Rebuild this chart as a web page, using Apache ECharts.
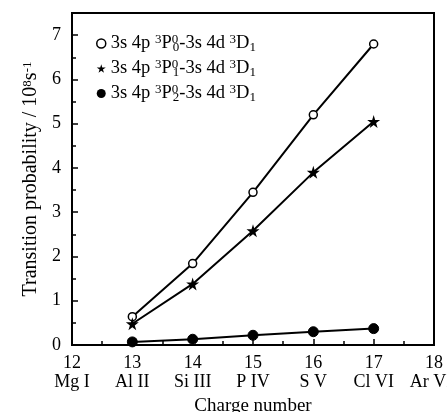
<!DOCTYPE html>
<html>
<head>
<meta charset="utf-8">
<script src="https://cdn.jsdelivr.net/npm/echarts@6/dist/echarts.min.js"></script>
<style>
  html, body { margin: 0; padding: 0; background: #fff; }
  #chart { width: 447px; height: 412px; }
</style>
</head>
<body>
<div id="chart"></div>
<script>
// charge numbers and ion names
const chargeNumbers = [13, 14, 15, 16, 17];
const xTickValues = [12, 13, 14, 15, 16, 17, 18];
const ionNames = ['Mg I', 'Al II', 'Si III', 'P IV', 'S V', 'Cl VI', 'Ar VII'];

// transition probabilities (10^8 s^-1)
const p0Values = [0.64, 1.84, 3.45, 5.2, 6.8];
const p1Values = [0.48, 1.38, 2.58, 3.9, 5.05];
const p2Values = [0.07, 0.13, 0.22, 0.3, 0.37];

const starPath = 'path://M50,0 L61,35 L98,35 L68,57 L79,91 L50,70 L21,91 L32,57 L2,35 L39,35 Z';
const fontFamily = '"Liberation Serif", "DejaVu Serif", serif';

function pairs(vals) {
  return chargeNumbers.map((c, i) => [c, vals[i]]);
}

function legendLabel(name) {
  const j = name.slice(1);
  return '3s 4p {sup|3}P{supS|0}{sub|' + j + '}-3s 4d {sup|3}D{sub|1}';
}

let myChart = echarts.init(document.getElementById('chart'));

let option = {
  animation: false,
  textStyle: { fontFamily: fontFamily, color: '#000' },
  grid: {
    left: 72, right: 13, top: 13, bottom: 67,
    outerBoundsMode: 'none',
    containLabel: false,
    show: true, borderColor: '#000', borderWidth: 2
  },
  legend: {
    orient: 'vertical',
    left: 91,
    top: 28,
    itemGap: 4,
    itemWidth: 9,
    itemHeight: 9,
    data: [
      { name: 'P0', icon: 'circle', itemStyle: { color: '#fff', borderColor: '#000', borderWidth: 1.5 } },
      { name: 'P1', icon: starPath },
      { name: 'P2', icon: 'circle' }
    ],
    formatter: legendLabel,
    textStyle: {
      fontFamily: fontFamily,
      fontSize: 18.5,
      lineHeight: 21,
      color: '#000',
      rich: {
        sup: { fontSize: 13, verticalAlign: 'top', lineHeight: 21, fontFamily: fontFamily },
        supS: { fontSize: 13, verticalAlign: 'top', lineHeight: 21, width: 1, fontFamily: fontFamily },
        sub: { fontSize: 13, verticalAlign: 'bottom', lineHeight: 21, fontFamily: fontFamily }
      }
    }
  },
  xAxis: {
    type: 'value',
    min: 12,
    max: 18,
    interval: 1,
    name: 'Charge number',
    nameLocation: 'middle',
    nameGap: 48,
    nameTextStyle: { fontFamily: fontFamily, fontSize: 19, color: '#000' },
    axisLine: { lineStyle: { color: '#000', width: 2 } },
    axisTick: { inside: true, length: 6, lineStyle: { color: '#000', width: 1.5 } },
    minorTick: { show: true, splitNumber: 2, length: 4, lineStyle: { color: '#000', width: 1.5 } },
    splitLine: { show: false },
    axisLabel: {
      color: '#000',
      fontFamily: fontFamily,
      fontSize: 18,
      lineHeight: 19,
      margin: 9,
      formatter: v => {
        const i = xTickValues.indexOf(v);
        return i < 0 ? '' : v + '\n' + ionNames[i];
      }
    }
  },
  yAxis: {
    type: 'value',
    min: 0,
    max: 7.5,
    interval: 1,
    name: 'Transition probability / 10{sup|8}s{sup|-1}',
    nameLocation: 'middle',
    nameGap: 30,
    nameTextStyle: {
      fontFamily: fontFamily, fontSize: 20, color: '#000',
      rich: { sup: { fontSize: 13, verticalAlign: 'top', lineHeight: 20, fontFamily: fontFamily } }
    },
    axisLine: { lineStyle: { color: '#000', width: 2 } },
    axisTick: { inside: true, length: 6, lineStyle: { color: '#000', width: 1.5 } },
    minorTick: { show: true, splitNumber: 2, length: 4, lineStyle: { color: '#000', width: 1.5 } },
    splitLine: { show: false },
    axisLabel: {
      color: '#000',
      fontFamily: fontFamily,
      fontSize: 18,
      margin: 11,
      formatter: v => (Number.isInteger(v) ? String(v) : '')
    }
  },
  series: [
    {
      name: 'P0', type: 'line', data: pairs(p0Values),
      symbol: 'circle', symbolSize: 8,
      itemStyle: { color: '#fff', borderColor: '#000', borderWidth: 1.5 },
      lineStyle: { color: '#000', width: 2 }
    },
    {
      name: 'P1', type: 'line', data: pairs(p1Values),
      symbol: starPath, symbolSize: 13,
      itemStyle: { color: '#000', borderColor: '#000', borderWidth: 0 },
      lineStyle: { color: '#000', width: 2 }
    },
    {
      name: 'P2', type: 'line', data: pairs(p2Values),
      symbol: 'circle', symbolSize: 10,
      itemStyle: { color: '#000', borderColor: '#000' },
      lineStyle: { color: '#000', width: 2 }
    }
  ]
};

myChart.setOption(option);
</script>
</body>
</html>
